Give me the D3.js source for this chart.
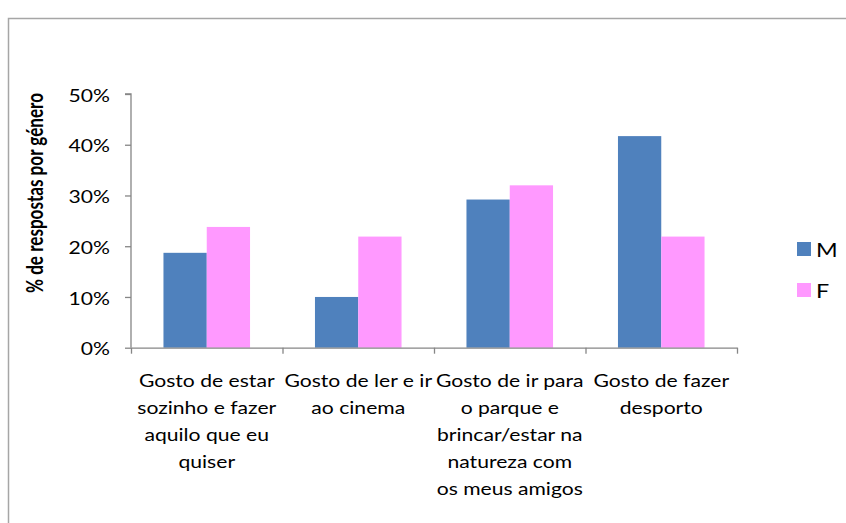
<!DOCTYPE html>
<html>
<head>
<meta charset="utf-8">
<script src="https://cdn.jsdelivr.net/npm/d3@7"></script>
<style>
  html, body { margin: 0; padding: 0; background: #fff; }
  svg { display: block; }
</style>
</head>
<body>
<svg id="chart" width="846" height="523"></svg>
<script>
// Activity preferences by gender (share of answers, %)
const categories = [
  "Gosto de estar sozinho e fazer aquilo que eu quiser",
  "Gosto de ler e ir ao cinema",
  "Gosto de ir para o parque e brincar/estar na natureza com os meus amigos",
  "Gosto de fazer desporto"
];
const categoryLines = [
  ["Gosto de estar", "sozinho e fazer", "aquilo que eu", "quiser"],
  ["Gosto de ler e ir", "ao cinema"],
  ["Gosto de ir para", "o parque e", "brincar/estar na", "natureza com", "os meus amigos"],
  ["Gosto de fazer", "desporto"]
];
const seriesNames = ["M", "F"];
const valuesM = [18.7, 10.0, 29.2, 41.7];
const valuesF = [23.8, 21.9, 32.0, 21.9];
const yTicks = [0, 10, 20, 30, 40, 50];
const yTitle = "% de respostas por género";

const colors = { M: "#4F81BD", F: "#FF99FF" };
const axisColor = "#868686";
const font = "Lato, sans-serif";
const stretch = 1.228;      // text is drawn slightly widened horizontally
const titleStretch = 1.35;  // the rotated title is thickened across its baseline

const svg = d3.select("#chart");

// chart frame (left and top edges)
svg.append("path")
  .attr("d", "M8.5,523 L8.5,18.5 L846,18.5")
  .attr("fill", "none")
  .attr("stroke", "#a6a6a6")
  .attr("stroke-width", 1.5);

const plot = { left: 131, right: 737, top: 94, bottom: 347.7 };

const x = d3.scaleBand()
  .domain(categories)
  .range([plot.left, plot.right])
  .paddingInner(0)
  .paddingOuter(0);

const x1 = d3.scaleBand()
  .domain(seriesNames)
  .range([0, x.bandwidth()])
  .paddingInner(0)
  .paddingOuter(0.75);

const y = d3.scaleLinear()
  .domain([0, 50])
  .range([plot.bottom, plot.top]);

const rows = categories.map((c, i) => ({ cat: c, M: valuesM[i], F: valuesF[i] }));

// bars
const groups = svg.append("g").selectAll("g")
  .data(rows)
  .join("g")
  .attr("transform", d => `translate(${x(d.cat)},0)`);

groups.selectAll("rect")
  .data(d => seriesNames.map(s => ({ s, v: d[s] })))
  .join("rect")
  .attr("x", d => x1(d.s))
  .attr("width", x1.bandwidth())
  .attr("y", d => y(d.v))
  .attr("height", d => y(0) - y(d.v))
  .attr("fill", d => colors[d.s]);

// y axis
const yAxis = svg.append("g")
  .attr("transform", `translate(${plot.left},0)`)
  .call(d3.axisLeft(y)
    .tickValues(yTicks)
    .tickSize(6)
    .tickPadding(15)
    .tickFormat(d => d + "%"));
yAxis.select(".domain").attr("stroke", axisColor).attr("stroke-width", 1.3)
  .attr("d", `M-6,${y(50)}H0V${y(0)}`);
yAxis.selectAll(".tick line").attr("stroke", axisColor).attr("stroke-width", 1.3);
yAxis.selectAll(".tick text")
  .attr("x", null)
  .attr("dy", "0.42em")
  .attr("transform", `translate(-21,0) scale(${stretch},1)`)
  .attr("fill", "#000")
  .style("font-family", font)
  .style("font-size", "17.2px");

// x axis: line with tick marks at category boundaries
const xEdge = d3.scaleLinear().domain([0, categories.length]).range(x.range());
const xAxis = svg.append("g")
  .attr("transform", `translate(0,${plot.bottom})`)
  .call(d3.axisBottom(xEdge)
    .tickValues(d3.range(categories.length + 1))
    .tickSize(6)
    .tickSizeOuter(0)
    .tickFormat(""));
xAxis.select(".domain").attr("stroke", axisColor).attr("stroke-width", 1.3);
xAxis.selectAll(".tick line").attr("stroke", axisColor).attr("stroke-width", 1.3);

// category labels
const catLabels = svg.append("g").selectAll("g")
  .data(categories)
  .join("g")
  .attr("transform", c => `translate(${x(c) + x.bandwidth() / 2},0) scale(${stretch},1)`)
  .append("text")
  .attr("text-anchor", "middle")
  .attr("fill", "#000")
  .style("font-family", font)
  .style("font-size", "17.2px");
catLabels.each(function (c, i) {
  d3.select(this).selectAll("tspan")
    .data(categoryLines[i])
    .join("tspan")
    .attr("x", 0)
    .attr("y", (d, j) => 387.3 + j * 27)
    .text(d => d);
});

// y axis title
svg.append("text")
  .attr("transform", `translate(43.3,193) scale(${titleStretch},1) rotate(-90)`)
  .attr("text-anchor", "middle")
  .attr("fill", "#000")
  .style("font-family", font)
  .style("font-weight", "bold")
  .style("font-size", "17.1px")
  .text(yTitle);

// legend
const legend = svg.append("g").selectAll("g")
  .data(seriesNames)
  .join("g")
  .attr("transform", (d, i) => `translate(797,${242 + i * 41})`);
legend.append("rect")
  .attr("width", 14)
  .attr("height", 14)
  .attr("fill", d => colors[d]);
legend.append("text")
  .attr("transform", `translate(19,14.5) scale(${stretch},1)`)
  .attr("fill", "#000")
  .style("font-family", font)
  .style("font-size", "19px")
  .text(d => d);
</script>
</body>
</html>
